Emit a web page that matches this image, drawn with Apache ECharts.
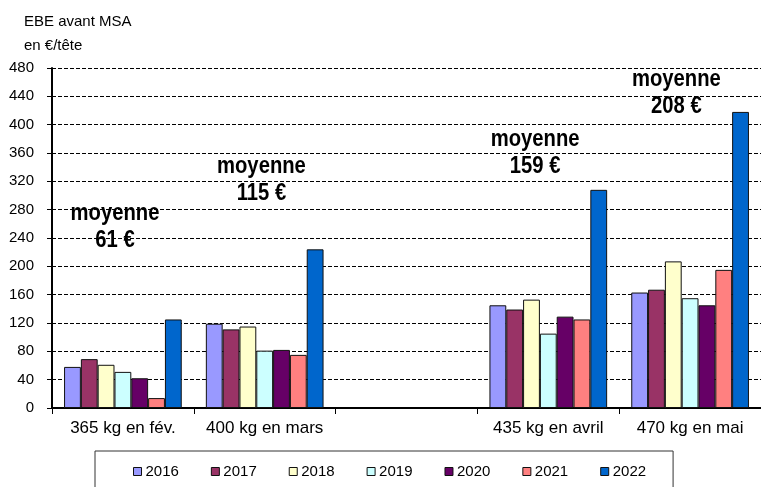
<!DOCTYPE html>
<html>
<head>
<meta charset="utf-8">
<script src="https://cdn.jsdelivr.net/npm/echarts@6/dist/echarts.min.js"></script>
<style>
html,body{margin:0;padding:0;background:#fff;}
#c{width:761px;height:487px;}
</style>
</head>
<body>
<div id="c"></div>
<script>
// ---- data ----
var categories = ['365 kg en fév.', '400 kg en mars', '', '435 kg en avril', '470 kg en mai'];
var years = ['2016', '2017', '2018', '2019', '2020', '2021', '2022'];
var v2016 = [58, 119, null, 145, 163];
var v2017 = [69, 111, null, 139, 167];
var v2018 = [61, 115, null, 153, 207];
var v2019 = [51, 81, null, 105, 155];
var v2020 = [42, 82, null, 129, 145];
var v2021 = [14, 75, null, 125, 195];
var v2022 = [125, 224, null, 308, 418];
var colors = ['#9999FF', '#993366', '#FFFFCC', '#CCFFFF', '#660066', '#FF8080', '#0066CC'];
var yTicks = [0, 480, 40]; // min, max, interval
// annotations: position along categories (0..5) and value, text
var annoX = [0.444, 1.477, 3.407, 4.403];
var annoY = [256, 322, 360, 444];
var annoText = ['moyenne\n61 €', 'moyenne\n115 €', 'moyenne\n159 €', 'moyenne\n208 €'];

var allValues = [v2016, v2017, v2018, v2019, v2020, v2021, v2022];
var FONT = '"Liberation Sans", Arial, sans-serif';

var chart = echarts.init(document.getElementById('c'), null, {renderer: 'canvas'});
var series = years.map(function (y, i) {
  return {
    name: y,
    type: 'bar',
    xAxisIndex: 0,
    yAxisIndex: 0,
    data: allValues[i],
    barGap: '0%',
    barCategoryGap: '17%',
    itemStyle: {color: colors[i], borderColor: '#111', borderWidth: 1},
    emphasis: {disabled: true},
    animation: false
  };
});

chart.setOption({
  animation: false,
  textStyle: {fontFamily: FONT},
  title: {
    text: 'EBE avant MSA\nen €/tête',
    left: 19, top: 5,
    textStyle: {fontSize: 15, fontWeight: 'normal', color: '#000', lineHeight: 24, fontFamily: FONT}
  },
  grid: {left: 52, top: 68, width: 710, height: 340, containLabel: false},
  legend: {
    data: years,
    left: 95, top: 451,
    padding: [13, 27, 22, 38],
    itemGap: 32,
    itemWidth: 8, itemHeight: 8,
    icon: 'rect',
    backgroundColor: '#fff',
    borderColor: '#333',
    borderWidth: 1,
    itemStyle: {borderColor: '#111', borderWidth: 1},
    textStyle: {fontSize: 15, color: '#000', fontFamily: FONT, padding: [0, 0, 0, -1]}
  },
  xAxis: [{
    type: 'category',
    data: categories,
    axisLine: {lineStyle: {color: '#000', width: 2}},
    axisTick: {show: true, length: 6, lineStyle: {color: '#000', width: 1}},
    axisLabel: {fontSize: 17, color: '#000', margin: 12, fontFamily: FONT, interval: 0},
    splitLine: {show: false}
  }, {
    type: 'value', min: 0, max: 5, show: false
  }],
  yAxis: {
    type: 'value',
    min: yTicks[0], max: yTicks[1], interval: yTicks[2],
    axisLine: {show: true, lineStyle: {color: '#000', width: 2}},
    axisTick: {show: true, length: 5, lineStyle: {color: '#000', width: 1}},
    axisLabel: {fontSize: 15, color: '#000', margin: 18, fontFamily: FONT},
    splitLine: {show: true, lineStyle: {color: '#000', width: 1, type: [4, 2]}}
  },
  series: series
});

var graphics = annoText.map(function (t, i) {
  var p = chart.convertToPixel({xAxisIndex: 1, yAxisIndex: 0}, [annoX[i], annoY[i]]);
  return {
    type: 'text',
    x: p[0], y: p[1],
    scaleX: 0.88,
    z: 100,
    style: {
      text: t,
      align: 'center',
      verticalAlign: 'middle',
      font: 'bold 23px ' + FONT,
      lineHeight: 27,
      fill: '#000'
    },
    silent: true
  };
});
chart.setOption({graphic: graphics});
</script>
</body>
</html>
